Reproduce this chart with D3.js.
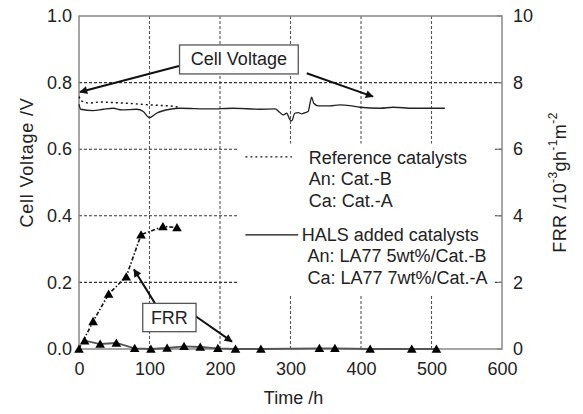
<!DOCTYPE html>
<html>
<head>
<meta charset="utf-8">
<script src="https://cdn.jsdelivr.net/npm/d3@7"></script>
<style>
  html, body { margin: 0; padding: 0; background: #fff; }
  svg { display: block; font-family: 'Liberation Sans', Arial, sans-serif; }
</style>
</head>
<body>
<svg id="chart" width="583" height="414"></svg>
<script>
// cell voltage, HALS added catalysts (solid)
const halsVoltTime = [0, 2.4, 20, 34.5, 48.7, 60.5, 81.8, 91.2, 99.7, 110, 129, 143, 186, 219, 257, 278, 285, 290, 294.6, 299.3, 301.7, 306, 311, 316, 320.6, 325, 327.7, 330, 333, 339.5, 356, 370, 384, 398.6, 427, 446, 474, 498, 519];
const halsVolt = [0.735, 0.72, 0.716, 0.72, 0.723, 0.718, 0.72, 0.713, 0.695, 0.708, 0.72, 0.723, 0.721, 0.723, 0.72, 0.721, 0.71, 0.703, 0.708, 0.688, 0.685, 0.708, 0.71, 0.706, 0.71, 0.713, 0.738, 0.756, 0.738, 0.73, 0.73, 0.733, 0.731, 0.726, 0.723, 0.726, 0.723, 0.723, 0.723];

// cell voltage, reference catalysts (dotted)
const refVoltTime = [0, 3, 13, 30, 68, 101, 129, 143];
const refVolt = [0.758, 0.745, 0.738, 0.742, 0.738, 0.733, 0.73, 0.726];

// FRR, reference catalysts (dash-dot + triangles)
const refFrrTime = [0, 20, 42, 67, 88, 119, 139];
const refFrr = [0, 0.83, 1.65, 2.17, 3.43, 3.68, 3.65];

// FRR, HALS added catalysts (solid + triangles)
const halsFrrTime = [8, 30, 53, 79, 102, 125, 149, 172, 197, 222, 258, 341, 363, 413, 472, 507];
const halsFrr = [0.25, 0.15, 0.18, 0.02, 0, 0.03, 0.08, 0.06, 0.02, 0, 0, 0.02, 0.02, 0, 0, 0];

const xTicks = [0, 100, 200, 300, 400, 500, 600];
const yLeftTicks = [0, 0.2, 0.4, 0.6, 0.8, 1.0];
const yRightTicks = [0, 2, 4, 6, 8, 10];

const legendRef = ['Reference catalysts', 'An: Cat.-B', 'Ca: Cat.-A'];
const legendHals = ['HALS added catalysts', 'An: LA77 5wt%/Cat.-B', 'Ca: LA77 7wt%/Cat.-A'];

const margin = { top: 16, right: 81, bottom: 65, left: 79 };
const width = 583;
const height = 414;

const svg = d3.select('#chart');

const x = d3.scaleLinear().domain([0, 600]).range([margin.left, width - margin.right]);
const yL = d3.scaleLinear().domain([0, 1]).range([height - margin.bottom, margin.top]);
const yR = d3.scaleLinear().domain([0, 10]).range([height - margin.bottom, margin.top]);

const zip = (a, b) => a.map((d, i) => [d, b[i]]);

function drawGrid() {
  const g = svg.append('g').attr('class', 'grid');
  g.append('g').selectAll('line')
    .data(xTicks.slice(1, -1))
    .join('line')
    .attr('x1', (d) => x(d))
    .attr('x2', (d) => x(d))
    .attr('y1', yL(1))
    .attr('y2', yL(0))
    .attr('stroke', '#555')
    .attr('stroke-width', 1.1)
    .attr('stroke-dasharray', '3,2');
  g.append('g').selectAll('line')
    .data(yLeftTicks.slice(1, -1))
    .join('line')
    .attr('x1', x(0))
    .attr('x2', x(600))
    .attr('y1', (d) => yL(d))
    .attr('y2', (d) => yL(d))
    .attr('stroke', '#333')
    .attr('stroke-width', 1.1)
    .attr('stroke-dasharray', '3,2');
}

function drawAxes() {
  const axisStyle = (g) => {
    g.select('.domain').remove();
    g.selectAll('text').attr('font-size', 18).attr('fill', '#222')
      .attr('font-family', "'Liberation Sans', Arial, sans-serif");
  };

  svg.append('g')
    .attr('transform', `translate(0,${yL(0)})`)
    .call(d3.axisBottom(x).tickValues(xTicks).tickSize(0).tickPadding(13).tickFormat(d3.format('d')))
    .call(axisStyle);

  svg.append('g')
    .attr('transform', `translate(${x(0)},0)`)
    .call(d3.axisLeft(yL).tickValues(yLeftTicks).tickSize(0).tickPadding(7).tickFormat(d3.format('.1f')))
    .call(axisStyle);

  svg.append('g')
    .attr('transform', `translate(${x(600)},0)`)
    .call(d3.axisRight(yR).tickValues(yRightTicks).tickSize(0).tickPadding(11).tickFormat(d3.format('d')))
    .call(axisStyle);

  // inner ticks on the right axis
  svg.append('g').selectAll('line')
    .data(yRightTicks)
    .join('line')
    .attr('x1', x(600) - 5)
    .attr('x2', x(600))
    .attr('y1', (d) => yR(d))
    .attr('y2', (d) => yR(d))
    .attr('stroke', '#777')
    .attr('stroke-width', 1.2);

  // frame
  svg.append('rect')
    .attr('x', x(0))
    .attr('y', yL(1))
    .attr('width', x(600) - x(0))
    .attr('height', yL(0) - yL(1))
    .attr('fill', 'none')
    .attr('stroke', '#888')
    .attr('stroke-width', 1.5);

  svg.append('text')
    .attr('transform', `translate(27,${yL(0.56)}) rotate(-90)`)
    .attr('text-anchor', 'middle')
    .attr('dominant-baseline', 'central')
    .attr('font-size', 18)
    .attr('letter-spacing', 0.8)
    .attr('fill', '#222')
    .text('Cell Voltage /V');

  const rt = svg.append('text')
    .attr('transform', `translate(560,${yR(5.0)}) rotate(-90)`)
    .attr('text-anchor', 'middle')
    .attr('dominant-baseline', 'central')
    .attr('font-size', 18)
    .attr('letter-spacing', 0.4)
    .attr('fill', '#222');
  rt.append('tspan').text('FRR /10');
  rt.append('tspan').attr('dy', -7).attr('font-size', 12).text('-3');
  rt.append('tspan').attr('dy', 7).text('gh');
  rt.append('tspan').attr('dy', -7).attr('font-size', 12).text('-1');
  rt.append('tspan').attr('dy', 7).text('m');
  rt.append('tspan').attr('dy', -7).attr('font-size', 12).text('-2');

  svg.append('text')
    .attr('x', x(300) + 3)
    .attr('y', 404)
    .attr('text-anchor', 'middle')
    .attr('font-size', 18)
    .attr('fill', '#222')
    .text('Time /h');
}

function drawLegend() {
  const g = svg.append('g');
  g.append('rect')
    .attr('x', x(224))
    .attr('y', yL(0.617))
    .attr('width', x(590) - x(224))
    .attr('height', yL(0.16) - yL(0.617))
    .attr('fill', '#fff');

  g.append('line')
    .attr('x1', x(236)).attr('x2', x(302))
    .attr('y1', yL(0.577)).attr('y2', yL(0.577))
    .attr('stroke', '#111').attr('stroke-width', 1.4)
    .attr('stroke-dasharray', '2,3');
  g.selectAll('text.ref')
    .data(legendRef)
    .join('text')
    .attr('x', x(326))
    .attr('y', (d, i) => yL(0.557) + i * 21.7)
    .attr('font-size', 18)
    .attr('fill', '#222')
    .text((d) => d);

  g.append('line')
    .attr('x1', x(236)).attr('x2', x(311))
    .attr('y1', yL(0.343)).attr('y2', yL(0.343))
    .attr('stroke', '#111').attr('stroke-width', 1.2);
  g.selectAll('text.hals')
    .data(legendHals)
    .join('text')
    .attr('x', (d, i) => (i === 0 ? x(316) : x(324)))
    .attr('y', (d, i) => yL(0.325) + i * 21.7)
    .attr('font-size', 18)
    .attr('fill', '#222')
    .text((d) => d);
}

function drawSeries() {
  const lineL = d3.line().x((d) => x(d[0])).y((d) => yL(d[1]));
  const lineR = d3.line().x((d) => x(d[0])).y((d) => yR(d[1]));

  svg.append('path')
    .datum(zip(halsFrrTime, halsFrr))
    .attr('d', lineR)
    .attr('fill', 'none')
    .attr('stroke', '#555')
    .attr('stroke-width', 1.8);

  svg.append('path')
    .datum(zip(refFrrTime, refFrr))
    .attr('d', lineR)
    .attr('fill', 'none')
    .attr('stroke', '#111')
    .attr('stroke-width', 1.6)
    .attr('stroke-dasharray', '4,2,1.5,2');

  svg.append('path')
    .datum(zip(refVoltTime, refVolt))
    .attr('d', lineL)
    .attr('fill', 'none')
    .attr('stroke', '#111')
    .attr('stroke-width', 1.4)
    .attr('stroke-dasharray', '2,3');

  svg.append('path')
    .datum(zip(halsVoltTime, halsVolt))
    .attr('d', lineL.curve(d3.curveMonotoneX))
    .attr('fill', 'none')
    .attr('stroke', '#222')
    .attr('stroke-width', 1.3);

  const tri = d3.symbol().type(d3.symbolTriangle).size(40);
  svg.append('g').selectAll('path')
    .data(zip(refFrrTime, refFrr).concat(zip(halsFrrTime, halsFrr)))
    .join('path')
    .attr('d', tri)
    .attr('transform', (d) => `translate(${x(d[0])},${yR(d[1]) + 1})`)
    .attr('fill', '#000');
}

function drawAnnotations() {
  svg.append('defs').append('marker')
    .attr('id', 'arrow')
    .attr('viewBox', '0 0 10 10')
    .attr('refX', 9)
    .attr('refY', 5)
    .attr('markerWidth', 5)
    .attr('markerHeight', 4)
    .attr('markerUnits', 'strokeWidth')
    .attr('orient', 'auto')
    .append('path')
    .attr('d', 'M0,0L10,5L0,10z')
    .attr('fill', '#111');

  const arrows = [
    [[141.8, 0.85], [1.4, 0.772], yL],
    [[323, 0.828], [417, 0.758], yL],
    [[107.8, 0.137], [78, 0.239], yL],
    [[163, 0.102], [217, 0.022], yL],
  ];
  svg.append('g').selectAll('line')
    .data(arrows)
    .join('line')
    .attr('x1', (d) => x(d[0][0]))
    .attr('y1', (d) => d[2](d[0][1]))
    .attr('x2', (d) => x(d[1][0]))
    .attr('y2', (d) => d[2](d[1][1]))
    .attr('stroke', '#111')
    .attr('stroke-width', 2)
    .attr('marker-end', 'url(#arrow)');

  const boxes = [
    { label: 'Cell Voltage', t0: 142.6, t1: 311, v0: 0.913, v1: 0.826 },
    { label: 'FRR', t0: 90.4, t1: 166, v0: 0.137, v1: 0.052 },
  ];
  const g = svg.append('g').selectAll('g').data(boxes).join('g');
  g.append('rect')
    .attr('x', (d) => x(d.t0))
    .attr('y', (d) => yL(d.v0))
    .attr('width', (d) => x(d.t1) - x(d.t0))
    .attr('height', (d) => yL(d.v1) - yL(d.v0))
    .attr('fill', '#fff')
    .attr('stroke', '#555')
    .attr('stroke-width', 1.3);
  g.append('text')
    .attr('x', (d) => (x(d.t0) + x(d.t1)) / 2)
    .attr('y', (d) => (yL(d.v0) + yL(d.v1)) / 2)
    .attr('text-anchor', 'middle')
    .attr('dominant-baseline', 'central')
    .attr('font-size', 18)
    .attr('fill', '#222')
    .text((d) => d.label);
}

drawGrid();
drawLegend();
drawAxes();
drawSeries();
drawAnnotations();
</script>
</body>
</html>
